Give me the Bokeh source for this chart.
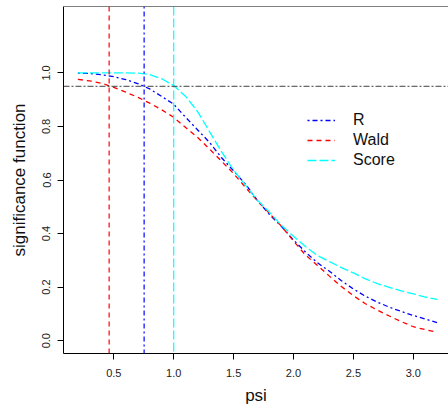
from bokeh.plotting import figure
from bokeh.models import (ColumnDataSource, Span, Legend, LegendItem, FixedTicker,
                          NumeralTickFormatter)
from bokeh.embed import file_html
from bokeh.resources import INLINE

# ---- data ----
psi = [0.2, 0.3, 0.4, 0.5, 0.6, 0.7, 0.8, 0.9, 1.0, 1.1, 1.2, 1.3, 1.4, 1.5, 1.6,
       1.7, 1.8, 1.9, 2.0, 2.1, 2.2, 2.3, 2.4, 2.5, 2.6, 2.7, 2.8, 2.9, 3.0, 3.1, 3.2]
sig_r = [0.999, 0.998, 0.993, 0.986, 0.975, 0.960, 0.940, 0.912, 0.883, 0.834, 0.787,
         0.740, 0.683, 0.634, 0.584, 0.523, 0.471, 0.426, 0.376, 0.331, 0.291, 0.259,
         0.224, 0.193, 0.166, 0.144, 0.125, 0.109, 0.094, 0.081, 0.067]
sig_wald = [0.976, 0.970, 0.961, 0.946, 0.928, 0.909, 0.887, 0.862, 0.834, 0.796, 0.759,
            0.715, 0.670, 0.624, 0.572, 0.522, 0.475, 0.427, 0.372, 0.320, 0.281, 0.241,
            0.202, 0.168, 0.138, 0.114, 0.092, 0.071, 0.052, 0.041, 0.031]
sig_score = [1.0, 1.0, 1.0, 1.0, 1.0, 0.999, 0.994, 0.978, 0.953, 0.912, 0.855,
             0.780, 0.705, 0.637, 0.580, 0.524, 0.480, 0.430, 0.390, 0.352, 0.318, 0.295,
             0.273, 0.253, 0.231, 0.213, 0.199, 0.186, 0.175, 0.163, 0.154]
series_names = ["R", "Wald", "Score"]
ci_lower = [0.753, 0.461, 1.0]   # vertical reference lines for R, Wald, Score
level = [0.95]
x_ticks = [0.5, 1.0, 1.5, 2.0, 2.5, 3.0]
y_ticks = [0.0, 0.2, 0.4, 0.6, 0.8, 1.0]

colors = ["#0000FF", "#FF0000", "#00FFFF"]
dashes = ["2 3 5 3", "5 4", "9 3"]
FONT = "Liberation Sans"

p = figure(width=448, height=408, output_backend="svg", toolbar_location=None,
           x_range=(0.08, 3.294), y_range=(-0.048, 1.248),
           min_border_left=63, min_border_right=0, min_border_top=6, min_border_bottom=55,
           background_fill_color="white", border_fill_color="white")
p.grid.visible = False
p.outline_line_color = None

src = ColumnDataSource(dict(psi=psi, r=sig_r, wald=sig_wald, score=sig_score))
renderers = []
for col, c, d in zip(["r", "wald", "score"], colors, dashes):
    renderers.append(p.line("psi", col, source=src, line_color=c, line_width=1.3,
                            line_dash=d))

for loc, c, d in zip(ci_lower, colors, dashes):
    p.add_layout(Span(location=loc, dimension="height", line_color=c, line_width=1.2,
                      line_dash=d))
for lv in level:
    p.add_layout(Span(location=lv, dimension="width", line_color="#404040", line_width=1,
                      line_dash="6 2 2 2"))
# top frame line
p.add_layout(Span(location=1.248, dimension="width", line_color="black", line_width=1))

# axes
for ax in (p.xaxis[0], p.yaxis[0]):
    ax.axis_line_color = "black"
    ax.axis_line_width = 1
    ax.major_tick_line_color = "black"
    ax.major_tick_out = 6
    ax.major_tick_in = 0
    ax.minor_tick_line_color = None
    ax.major_label_text_font = FONT
    ax.major_label_text_font_size = "11px"
    ax.major_label_text_color = "#222222"
    ax.axis_label_text_font = FONT
    ax.axis_label_text_font_size = "17px"
    ax.axis_label_text_font_style = "normal"
    ax.axis_label_text_color = "#111111"
    ax.formatter = NumeralTickFormatter(format="0.0")

p.xaxis[0].ticker = FixedTicker(ticks=x_ticks)
p.yaxis[0].ticker = FixedTicker(ticks=y_ticks)
p.xaxis[0].axis_label = "psi"
p.yaxis[0].axis_label = "significance function"
p.yaxis[0].major_label_orientation = "vertical"
p.xaxis[0].major_label_standoff = 9
p.yaxis[0].major_label_standoff = 7
p.xaxis[0].axis_label_standoff = 6
p.yaxis[0].axis_label_standoff = 11

legend = Legend(items=[LegendItem(label=n, renderers=[r]) for n, r in zip(series_names, renderers)],
                location=(244, 183), padding=0, spacing=0, margin=0,
                glyph_width=28, glyph_height=20, label_height=20, label_standoff=18,
                border_line_color=None, background_fill_alpha=0,
                label_text_font=FONT, label_text_font_size="16px",
                label_text_color="#111111")
p.add_layout(legend)

open("out.html", "w").write(file_html(p, INLINE))
